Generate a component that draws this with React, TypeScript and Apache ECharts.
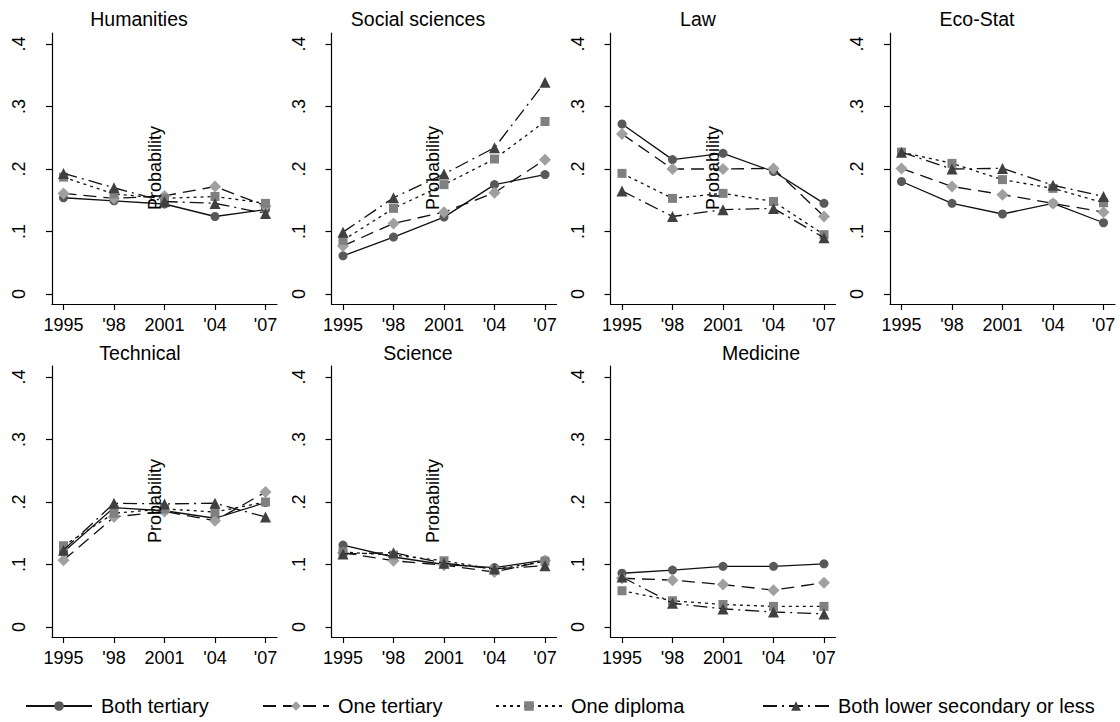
import React, { useEffect, useRef } from "react";
import * as echarts from "echarts";

// ---- Data ----
const years = [1995, 1998, 2001, 2004, 2007];
const yearLabels = ["1995", "'98", "2001", "'04", "'07"];
const yTicks = [0, 0.1, 0.2, 0.3, 0.4];
const yTickLabels = ["0", ".1", ".2", ".3", ".4"];
const panels = ["Humanities", "Social sciences", "Law", "Eco-Stat", "Technical", "Science", "Medicine"];
const groups = ["Both tertiary", "One tertiary", "One diploma", "Both lower secondary or less"];
const axisTitle = "Probability";

// values per panel: [Both tertiary, One tertiary, One diploma, Both lower secondary or less]
const humanities = [
  [0.154, 0.149, 0.144, 0.124, 0.135],
  [0.161, 0.153, 0.157, 0.172, 0.141],
  [0.187, 0.16, 0.153, 0.156, 0.145],
  [0.193, 0.17, 0.148, 0.145, 0.129],
];
const socialSciences = [
  [0.061, 0.091, 0.123, 0.175, 0.191],
  [0.077, 0.113, 0.131, 0.162, 0.215],
  [0.086, 0.137, 0.175, 0.216, 0.276],
  [0.099, 0.154, 0.192, 0.234, 0.339],
];
const law = [
  [0.272, 0.215, 0.225, 0.196, 0.145],
  [0.256, 0.2, 0.2, 0.201, 0.124],
  [0.193, 0.153, 0.161, 0.148, 0.095],
  [0.165, 0.124, 0.135, 0.137, 0.09],
];
const ecoStat = [
  [0.18, 0.145, 0.128, 0.145, 0.114],
  [0.201, 0.172, 0.159, 0.145, 0.131],
  [0.227, 0.209, 0.183, 0.169, 0.146],
  [0.227, 0.2, 0.201, 0.174, 0.156],
];
const technical = [
  [0.12, 0.191, 0.186, 0.174, 0.199],
  [0.107, 0.176, 0.185, 0.17, 0.216],
  [0.13, 0.182, 0.189, 0.184, 0.2],
  [0.123, 0.198, 0.197, 0.198, 0.176],
];
const science = [
  [0.131, 0.112, 0.1, 0.095, 0.107],
  [0.119, 0.106, 0.099, 0.088, 0.106],
  [0.12, 0.115, 0.106, 0.092, 0.105],
  [0.117, 0.119, 0.102, 0.093, 0.098],
];
const medicine = [
  [0.086, 0.091, 0.097, 0.097, 0.101],
  [0.078, 0.075, 0.068, 0.059, 0.071],
  [0.058, 0.042, 0.036, 0.033, 0.033],
  [0.08, 0.038, 0.029, 0.024, 0.021],
];
const panelValues = [humanities, socialSciences, law, ecoStat, technical, science, medicine];

// ---- Layout / style ----
const FONT = "'Liberation Sans', Arial, Helvetica, sans-serif";
const gridLefts = [52, 331.5, 610.5, 890, 52, 331.5, 610.5];
const gridTops = [33, 33, 33, 33, 366, 366, 366];
const GRID_W = 225;
const GRID_H = 271;
const titleX = [139, 418, 698, 977, 140, 418, 761];
const titleY = [19, 19, 19, 19, 353, 353, 353];
const probX = [155, 433, 713, null, 155, 433, null];
const probY = [168, 168, 168, null, 501, 501, null];

const groupStyles = [
  { symbol: "circle", size: 9, color: "#595959", dash: "solid" as any },
  { symbol: "diamond", size: 12, color: "#a0a0a0", dash: [13, 7] },
  { symbol: "rect", size: 9, color: "#808080", dash: [3, 4] },
  { symbol: "triangle", size: 11, color: "#404040", dash: [14, 5, 2, 5] },
];
const legendLefts = [25, 262, 495, 762];

export default function App() {
  const ref = useRef<HTMLDivElement>(null);
  useEffect(() => {
    if (!ref.current) return;
    const chart = echarts.init(ref.current, null, { renderer: "svg" });

    const grids: any[] = [];
    const xAxes: any[] = [];
    const yAxes: any[] = [];
    const series: any[] = [];
    const graphics: any[] = [];

    panels.forEach((name, i) => {
      grids.push({ left: gridLefts[i], top: gridTops[i], width: GRID_W, height: GRID_H, containLabel: false });
      xAxes.push({
        type: "value",
        gridIndex: i,
        min: 1994.317,
        max: 2007.683,
        axisLine: { show: true, onZero: false, lineStyle: { color: "#000", width: 1.2 } },
        axisTick: { show: true, length: 6, customValues: years, lineStyle: { color: "#000", width: 1.2 } },
        axisLabel: {
          show: true,
          customValues: years,
          margin: 12,
          fontSize: 18,
          color: "#000",
          fontFamily: FONT,
          formatter: (v: number) => yearLabels[years.indexOf(Math.round(v))] ?? "",
        },
        splitLine: { show: false },
      });
      yAxes.push({
        type: "value",
        gridIndex: i,
        min: -0.016,
        max: 0.4176,
        axisLine: { show: true, onZero: false, lineStyle: { color: "#000", width: 1.2 } },
        axisTick: { show: true, length: 6, customValues: yTicks, lineStyle: { color: "#000", width: 1.2 } },
        axisLabel: {
          show: true,
          customValues: yTicks,
          rotate: 90,
          margin: 24,
          fontSize: 18,
          color: "#000",
          fontFamily: FONT,
          formatter: (v: number) => {
            const idx = yTicks.findIndex((t) => Math.abs(t - v) < 1e-6);
            return idx >= 0 ? yTickLabels[idx] : "";
          },
        },
        splitLine: { show: false },
      });
      panelValues[i].forEach((vals, g) => {
        const st = groupStyles[g];
        series.push({
          type: "line",
          name: groups[g],
          xAxisIndex: i,
          yAxisIndex: i,
          data: years.map((y, k) => [y, vals[k]]),
          symbol: st.symbol,
          symbolSize: st.size,
          showAllSymbol: true,
          lineStyle: { color: "#111", width: 1.3, type: st.dash },
          itemStyle: { color: st.color, borderWidth: 0 },
          z: 2 + g,
          emphasis: { disabled: true },
        });
      });
      graphics.push({
        type: "text",
        x: titleX[i],
        y: titleY[i],
        style: { text: name, fill: "#000", font: `19.5px ${FONT}`, align: "center", verticalAlign: "middle" },
      });
      if (probX[i] != null) {
        graphics.push({
          type: "text",
          x: probX[i],
          y: probY[i],
          rotation: Math.PI / 2,
          style: { text: axisTitle, fill: "#000", font: `18px ${FONT}`, align: "center", verticalAlign: "middle" },
          z: 100,
        });
      }
    });

    const legends = groups.map((g, k) => ({
      show: true,
      data: [g],
      left: legendLefts[k],
      top: 696,
      itemWidth: 66,
      itemHeight: 12,
      itemGap: 0,
      selectedMode: false,
      textStyle: { fontSize: 20, color: "#000", fontFamily: FONT, padding: [0, 0, 0, 4] },
      padding: 0,
    }));

    chart.setOption({
      animation: false,
      backgroundColor: "#fff",
      grid: grids,
      xAxis: xAxes,
      yAxis: yAxes,
      series,
      legend: legends,
      graphic: graphics,
    });
    return () => chart.dispose();
  }, []);
  return <div ref={ref} style={{ position: "fixed", left: 0, top: 0, width: 1120, height: 722 }} />;
}
